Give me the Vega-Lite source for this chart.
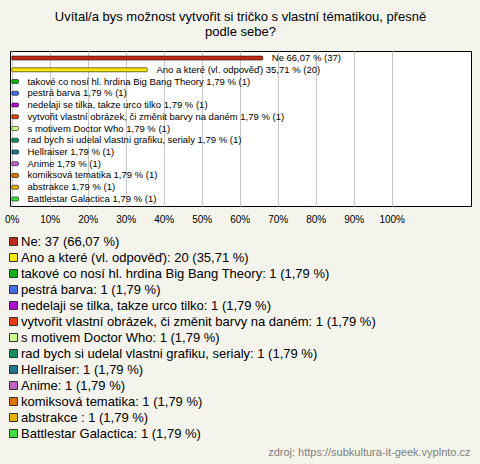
{
  "$schema": "https://vega.github.io/schema/vega-lite/v6.json",
  "width": 461,
  "height": 155,
  "autosize": {"type": "none"},
  "padding": {"left": 10, "top": 51, "right": 9, "bottom": 258},
  "background": "#f4f3ec",
  "title": {
    "text": ["Uvítal/a bys možnost vytvořit si tričko s vlastní tématikou, přesně", "podle sebe?"],
    "font": "Liberation Sans",
    "fontSize": 13,
    "fontWeight": "normal",
    "color": "#000000",
    "anchor": "middle",
    "lineHeight": 15,
    "offset": 12
  },
  "data": {
    "values": [
      {"order": 1, "pct": 66.07, "bar": "Ne 66,07 % (37)", "leg": "Ne: 37 (66,07 %)"},
      {"order": 2, "pct": 35.71, "bar": "Ano a které (vl. odpověď) 35,71 % (20)", "leg": "Ano a které (vl. odpověď): 20 (35,71 %)"},
      {"order": 3, "pct": 1.79, "bar": "takové co nosí hl. hrdina Big Bang Theory 1,79 % (1)", "leg": "takové co nosí hl. hrdina Big Bang Theory: 1 (1,79 %)"},
      {"order": 4, "pct": 1.79, "bar": "pestrá barva 1,79 % (1)", "leg": "pestrá barva: 1 (1,79 %)"},
      {"order": 5, "pct": 1.79, "bar": "nedelaji se tilka, takze urco tilko 1,79 % (1)", "leg": "nedelaji se tilka, takze urco tilko: 1 (1,79 %)"},
      {"order": 6, "pct": 1.79, "bar": "vytvořit vlastní obrázek, či změnit barvy na daném 1,79 % (1)", "leg": "vytvořit vlastní obrázek, či změnit barvy na daném: 1 (1,79 %)"},
      {"order": 7, "pct": 1.79, "bar": "s motivem Doctor Who 1,79 % (1)", "leg": "s motivem Doctor Who: 1 (1,79 %)"},
      {"order": 8, "pct": 1.79, "bar": "rad bych si udelal vlastni grafiku, serialy 1,79 % (1)", "leg": "rad bych si udelal vlastni grafiku, serialy: 1 (1,79 %)"},
      {"order": 9, "pct": 1.79, "bar": "Hellraiser 1,79 % (1)", "leg": "Hellraiser: 1 (1,79 %)"},
      {"order": 10, "pct": 1.79, "bar": "Anime 1,79 % (1)", "leg": "Anime: 1 (1,79 %)"},
      {"order": 11, "pct": 1.79, "bar": "komiksová tematika 1,79 % (1)", "leg": "komiksová tematika: 1 (1,79 %)"},
      {"order": 12, "pct": 1.79, "bar": "abstrakce  1,79 % (1)", "leg": "abstrakce : 1 (1,79 %)"},
      {"order": 13, "pct": 1.79, "bar": "Battlestar Galactica 1,79 % (1)", "leg": "Battlestar Galactica: 1 (1,79 %)"}
    ]
  },
  "encoding": {
    "y": {"field": "order", "type": "ordinal", "axis": null, "scale": {"paddingInner": 0, "paddingOuter": 0.1}},
    "x": {
      "field": "pct",
      "type": "quantitative",
      "scale": {"domain": [-0.45, 120.87], "nice": false, "zero": false},
      "axis": {
        "values": [0, 10, 20, 30, 40, 50, 60, 70, 80, 90, 100],
        "labelExpr": "datum.value + '%'",
        "labelFont": "Liberation Sans",
        "labelFontSize": 10,
        "labelColor": "#000000",
        "labelPadding": 8,
        "ticks": false,
        "domain": false,
        "grid": true,
        "gridColor": "#c8c8c8",
        "gridWidth": 1,
        "title": "zdroj: https://subkultura-it-geek.vyplnto.cz",
        "titleFont": "Liberation Sans",
        "titleFontSize": 11,
        "titleFontWeight": "normal",
        "titleColor": "#808080",
        "titleAnchor": "end",
        "titleAlign": "right",
        "titleBaseline": "middle",
        "titleX": 460,
        "titleY": 246
      }
    }
  },
  "layer": [
    {
      "mark": {"type": "bar", "size": 4, "stroke": "#000000", "strokeWidth": 0.8, "strokeOpacity": 0.7, "cornerRadiusEnd": 1},
      "encoding": {
        "x": {"field": "pct", "type": "quantitative"},
        "x2": {"datum": 0},
        "color": {
          "field": "leg",
          "type": "nominal",
          "sort": {"field": "order"},
          "scale": {
            "range": ["#c02a10", "#f8e800", "#12b012", "#3f6fe8", "#b010d0", "#e04010", "#ccff88", "#109060", "#1a7890", "#c060c0", "#e07000", "#e8b000", "#40e040"]
          },
          "legend": {
            "orient": "none",
            "legendX": -3,
            "legendY": 184,
            "title": null,
            "padding": 0,
            "symbolType": "square",
            "symbolSize": 64,
            "symbolStrokeColor": "#333333",
            "symbolStrokeWidth": 1,
            "symbolOpacity": 1,
            "labelFont": "Liberation Sans",
            "labelFontSize": 13,
            "labelColor": "#000000",
            "labelLimit": 0,
            "labelOffset": 1,
            "rowPadding": 2
          }
        }
      }
    },
    {
      "mark": {"type": "text", "align": "left", "baseline": "middle", "dx": 9, "font": "Liberation Sans", "fontSize": 9.5, "color": "#000000"},
      "encoding": {
        "text": {"field": "bar"}
      }
    }
  ],
  "config": {
    "view": {"fill": "#ffffff", "stroke": "#000000", "strokeWidth": 1}
  }
}
